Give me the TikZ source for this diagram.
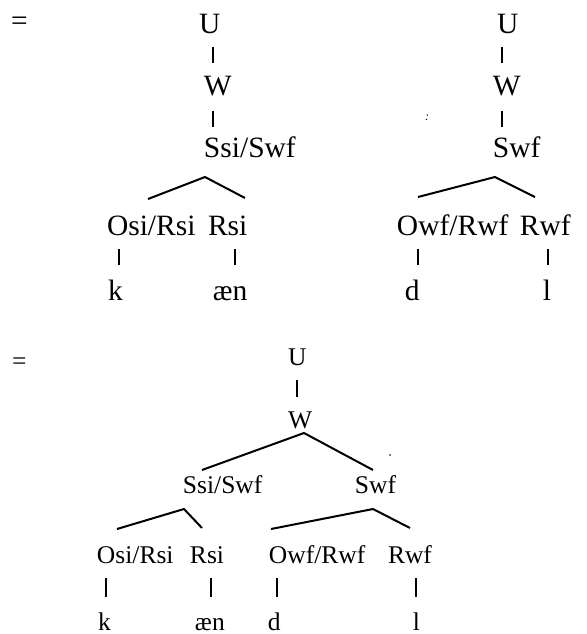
\documentclass[tikz,border=0pt]{standalone}
\usepackage{fontspec}
\setmainfont{Liberation Serif}
\begin{document}
\begin{tikzpicture}[x=0.5pt,y=-0.5pt,
  lbl/.style={anchor=base west,inner sep=0,outer sep=0,font=\fontsize{14.75}{16}\selectfont},
  lbls/.style={anchor=base west,inner sep=0,outer sep=0,font=\fontsize{12.75}{14}\selectfont},
  br/.style={line width=1pt}]
\useasboundingbox (0,0) rectangle (586,634);
% ---------- top left tree
\node[lbl] (eq1) at (11,30) {=};
\node[lbl] (U1) at (199,33) {U};
\node[lbl] (W1) at (204,95) {W};
\node[lbl] (S1) at (204,157) {Ssi/Swf};
\node[lbl] (O1) at (107,235) {Osi/Rsi};
\node[lbl] (R1) at (208,235) {Rsi};
\node[lbl] (k1) at (108,300) {k};
\node[lbl] (ae1) at (213,300) {æn};
\coordinate (uw1a) at (213,47);  \coordinate (uw1b) at (213,63);
\coordinate (ws1a) at (213,111); \coordinate (ws1b) at (213,127);
\coordinate (ap1) at (205,177); \coordinate (ap1l) at (148,199); \coordinate (ap1r) at (245,198);
\coordinate (ok1a) at (119,249); \coordinate (ok1b) at (119,265);
\coordinate (ra1a) at (235,249); \coordinate (ra1b) at (235,265);
\draw[br] (uw1a) -- (uw1b);
\draw[br] (ws1a) -- (ws1b);
\draw[br] (ap1l) -- (ap1) -- (ap1r);
\draw[br] (ok1a) -- (ok1b);
\draw[br] (ra1a) -- (ra1b);
% ---------- top right tree
\node[lbl] (U2) at (497,33) {U};
\node[lbl] (W2) at (493,95) {W};
\node[lbl] (S2) at (493,157) {Swf};
\node[lbl] (O2) at (397,235) {Owf/Rwf};
\node[lbl] (R2) at (520,235) {Rwf};
\node[lbl] (d2) at (405,300) {d};
\node[lbl] (l2) at (543,300) {l};
\node[anchor=center,inner sep=0,font=\fontsize{6}{6}\selectfont\itshape] (spk) at (427,118) {:};
\coordinate (uw2a) at (502,47);  \coordinate (uw2b) at (502,63);
\coordinate (ws2a) at (502,111); \coordinate (ws2b) at (502,127);
\coordinate (ap2) at (495,177); \coordinate (ap2l) at (418,197); \coordinate (ap2r) at (535,197);
\coordinate (od2a) at (418,249); \coordinate (od2b) at (418,265);
\coordinate (rl2a) at (548,249); \coordinate (rl2b) at (548,265);
\draw[br] (uw2a) -- (uw2b);
\draw[br] (ws2a) -- (ws2b);
\draw[br] (ap2l) -- (ap2) -- (ap2r);
\draw[br] (od2a) -- (od2b);
\draw[br] (rl2a) -- (rl2b);
% ---------- bottom tree
\node[lbls] (eq2) at (12,369) {=};
\node[lbls] (U3) at (288,365) {U};
\node[lbls] (W3) at (288,428) {W};
\node[lbls] (S3) at (183,493) {Ssi/Swf};
\node[lbls] (T3) at (355,493) {Swf};
\node[lbls] (O3) at (97,563) {Osi/Rsi};
\node[lbls] (R3) at (190,563) {Rsi};
\node[lbls] (P3) at (269,563) {Owf/Rwf};
\node[lbls] (Q3) at (388,563) {Rwf};
\node[lbls] (k3) at (98,630) {k};
\node[lbls] (ae3) at (195,630) {æn};
\node[lbls] (d3) at (268,630) {d};
\node[lbls] (l3) at (413,630) {l};
\fill (390,455) circle (0.8);
\coordinate (uw3a) at (297,380); \coordinate (uw3b) at (297,397);
\coordinate (ap3) at (304,433); \coordinate (ap3l) at (202,470); \coordinate (ap3r) at (373,470);
\coordinate (ap4) at (184,509); \coordinate (ap4l) at (117,529); \coordinate (ap4r) at (202,528);
\coordinate (ap5) at (373,509); \coordinate (ap5l) at (271,529); \coordinate (ap5r) at (410,528);
\coordinate (v1a) at (106,578); \coordinate (v1b) at (106,597);
\coordinate (v2a) at (211,578); \coordinate (v2b) at (211,597);
\coordinate (v3a) at (277,578); \coordinate (v3b) at (277,597);
\coordinate (v4a) at (416,578); \coordinate (v4b) at (416,597);
\draw[br] (uw3a) -- (uw3b);
\draw[br] (ap3l) -- (ap3) -- (ap3r);
\draw[br] (ap4l) -- (ap4) -- (ap4r);
\draw[br] (ap5l) -- (ap5) -- (ap5r);
\draw[br] (v1a) -- (v1b);
\draw[br] (v2a) -- (v2b);
\draw[br] (v3a) -- (v3b);
\draw[br] (v4a) -- (v4b);
\end{tikzpicture}
\end{document}
